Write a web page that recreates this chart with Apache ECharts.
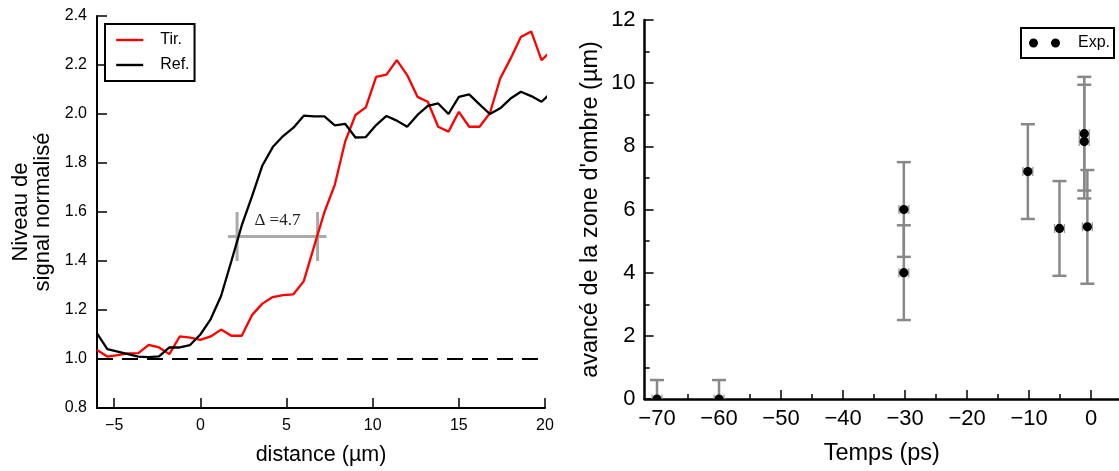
<!DOCTYPE html>
<html><head><meta charset="utf-8">
<script src="https://cdn.jsdelivr.net/npm/echarts@6/dist/echarts.min.js"></script>
<style>html,body{margin:0;padding:0;background:#fff}#c{width:1119px;height:471px}</style>
</head><body><div id="c"></div>
<script>
// ---- Left panel data ----
const distX = [-6.0,-5.4,-4.8,-4.2,-3.6,-3.0,-2.4,-1.8,-1.2,-0.6,0.0,0.6,1.2,1.8,2.4,3.0,3.6,4.2,4.8,5.4,6.0,6.6,7.2,7.8,8.4,9.0,9.6,10.2,10.8,11.4,12.0,12.6,13.2,13.8,14.4,15.0,15.6,16.2,16.8,17.4,18.0,18.6,19.2,19.8,20.4];
const tirY = [1.037,1.010,1.016,1.023,1.024,1.058,1.047,1.020,1.092,1.087,1.078,1.092,1.120,1.095,1.095,1.180,1.226,1.253,1.261,1.264,1.318,1.460,1.600,1.711,1.887,1.996,2.027,2.152,2.161,2.220,2.159,2.070,2.050,1.948,1.928,2.009,1.948,1.948,2.003,2.145,2.226,2.314,2.337,2.220,2.260];
const refY = [1.105,1.040,1.030,1.020,1.010,1.008,1.011,1.047,1.047,1.057,1.100,1.163,1.257,1.400,1.545,1.665,1.790,1.865,1.910,1.944,1.993,1.990,1.990,1.954,1.960,1.904,1.906,1.955,1.992,1.973,1.948,1.996,2.033,2.043,2.000,2.070,2.080,2.039,2.000,2.023,2.063,2.091,2.073,2.050,2.090];
const baseLineX = [-6, 20];
const baseLineY = [1.0, 1.0];
const deltaBarX = [1.6, 7.32];
const deltaBarY = 1.5;
const deltaTickX = [2.13, 6.8];
const deltaTickY = [1.4, 1.6];
const deltaText = 'Δ =4.7';
const deltaTextPos = [4.47, 1.566];
const distTicks = [-5, 0, 5, 10, 15, 20];

// ---- Right panel data ----
const expX = [-70, -60, -30.2, -30.2, -10.2, -5.1, -1.1, -1.1, -0.6];
const expY = [0, 0, 6.0, 4.0, 7.2, 5.4, 8.4, 8.15, 5.45];
const expYErr = [0.6, 0.6, 1.5, 1.5, 1.5, 1.5, 1.8, 1.8, 1.8];
const expXErr = [0.8, 0.8, 0.8, 0.8, 0.8, 0.8, 0.8, 0.8, 0.8];
const timeTicks = [-70, -60, -50, -40, -30, -20, -10, 0];
const timeMinorTicks = [-65, -55, -45, -35, -25, -15, -5];

const FONT = 'Liberation Sans';
const minus = v => String(v).replace('-', '\u2212');

const tirData = distX.map((x, i) => [x, tirY[i]]);
const refData = distX.map((x, i) => [x, refY[i]]);
const baseData = baseLineX.map((x, i) => [x, baseLineY[i]]);
const expData = expX.map((x, i) => [x, expY[i], expYErr[i], expXErr[i]]);

function errRender(params, api) {
  const x = api.value(0), y = api.value(1), ey = api.value(2), ex = api.value(3);
  const t = api.coord([x, y + ey]);
  const b = api.coord([x, y - ey]);
  const l = api.coord([x - ex, y]);
  const r = api.coord([x + ex, y]);
  const st = { stroke: '#888888', lineWidth: 2.5 };
  const st2 = { stroke: '#999999', lineWidth: 1.3 };
  const cw = 7, ch = 4.5;
  return { type: 'group', children: [
    { type: 'line', shape: { x1: t[0], y1: t[1], x2: b[0], y2: b[1] }, style: st },
    { type: 'line', shape: { x1: t[0] - cw, y1: t[1], x2: t[0] + cw, y2: t[1] }, style: st },
    { type: 'line', shape: { x1: b[0] - cw, y1: b[1], x2: b[0] + cw, y2: b[1] }, style: st },
    { type: 'line', shape: { x1: l[0], y1: l[1], x2: r[0], y2: r[1] }, style: st2 },
    { type: 'line', shape: { x1: l[0], y1: l[1] - ch, x2: l[0], y2: l[1] + ch }, style: st2 },
    { type: 'line', shape: { x1: r[0], y1: r[1] - ch, x2: r[0], y2: r[1] + ch }, style: st2 }
  ]};
}
function dotRender(params, api) {
  const c = api.coord([api.value(0), api.value(1)]);
  return { type: 'circle', shape: { cx: c[0], cy: c[1], r: 4.6 }, style: { fill: '#000' } };
}
function textRender(params, api) {
  const c = api.coord([api.value(0), api.value(1)]);
  return { type: 'text', x: c[0], y: c[1], style: { text: deltaText, fill: '#222', font: '17px "Liberation Serif"', align: 'center', verticalAlign: 'middle' } };
}

const chart = echarts.init(document.getElementById('c'), null, { renderer: 'canvas' });
chart.setOption({
  animation: false,
  backgroundColor: '#fff',
  grid: [
    { left: 97, top: 16, width: 448, height: 393.3 },
    { left: 644.6, top: 20, right: 0, height: 380 }
  ],
  xAxis: [
    { type: 'value', gridIndex: 0, min: -6, max: 20,
      axisLine: { onZero: false, lineStyle: { color: '#000', width: 2 } },
      axisTick: { inside: true, length: 10, customValues: distTicks, lineStyle: { color: '#000', width: 1.5 } },
      axisLabel: { customValues: distTicks, formatter: minus, color: '#000', fontFamily: FONT, fontSize: 16, margin: 10 },
      splitLine: { show: false },
      name: 'distance (µm)', nameLocation: 'middle', nameGap: 36,
      nameTextStyle: { color: '#000', fontFamily: FONT, fontSize: 21.5 } },
    { type: 'value', gridIndex: 1, min: -72, max: 4.5,
      axisLine: { onZero: false, lineStyle: { color: '#000', width: 2.5 } },
      axisTick: { inside: true, length: 9, customValues: timeTicks, lineStyle: { color: '#000', width: 1.5 } },
      axisLabel: { customValues: timeTicks, formatter: minus, color: '#000', fontFamily: FONT, fontSize: 22, margin: 9 },
      splitLine: { show: false },
      name: 'Temps (ps)', nameLocation: 'middle', nameGap: 43,
      nameTextStyle: { color: '#000', fontFamily: FONT, fontSize: 23.5 } },
    { type: 'value', gridIndex: 1, min: -72, max: 4.5, position: 'bottom',
      axisLine: { show: false, onZero: false },
      axisTick: { inside: true, length: 5, customValues: timeMinorTicks, lineStyle: { color: '#000', width: 1.5 } },
      axisLabel: { show: false }, splitLine: { show: false } }
  ],
  yAxis: [
    { type: 'value', gridIndex: 0, min: 0.8, max: 2.4, interval: 0.2,
      axisLine: { show: true, onZero: false, lineStyle: { color: '#000', width: 2 } },
      axisTick: { show: true, inside: true, length: 10, lineStyle: { color: '#000', width: 1.5 } },
      axisLabel: { formatter: v => v.toFixed(1), color: '#000', fontFamily: FONT, fontSize: 16, margin: 10 },
      splitLine: { show: false },
      name: 'Niveau de\nsignal normalisé', nameLocation: 'middle', nameGap: 43,
      nameTextStyle: { color: '#000', fontFamily: FONT, fontSize: 22, lineHeight: 22, align: 'center' } },
    { type: 'value', gridIndex: 1, min: 0, max: 12, interval: 2,
      axisLine: { show: true, onZero: false, lineStyle: { color: '#000', width: 2.5 } },
      axisTick: { show: true, inside: true, length: 9, lineStyle: { color: '#000', width: 1.5 } },
      minorTick: { show: true, splitNumber: 2, length: 5, lineStyle: { color: '#000', width: 1.5 } },
      axisLabel: { color: '#000', fontFamily: FONT, fontSize: 22, margin: 9 },
      splitLine: { show: false },
      name: 'avancé de la zone d\'ombre (µm)', nameLocation: 'middle', nameGap: 42,
      nameTextStyle: { color: '#000', fontFamily: FONT, fontSize: 23.5 } }
  ],
  legend: [
    { data: ['Tir.', 'Ref.'], left: 105, top: 24, orient: 'vertical',
      itemWidth: 27, itemHeight: 14, itemGap: 9, padding: [8, 5, 8, 10],
      itemStyle: { opacity: 0, borderWidth: 0 },
      lineStyle: { width: 2.4 },
      borderColor: '#000', borderWidth: 2, borderRadius: 0, backgroundColor: '#fff',
      textStyle: { color: '#000', fontFamily: FONT, fontSize: 16, padding: [0, 0, 0, 12] } },
    { data: [{ name: 'Exp.', icon: 'path://M0,4.5A4.5,4.5,0,1,1,9,4.5A4.5,4.5,0,1,1,0,4.5ZM22,4.5A4.5,4.5,0,1,1,31,4.5A4.5,4.5,0,1,1,22,4.5Z' }],
      left: 1021, top: 28, orient: 'vertical',
      itemWidth: 31, itemHeight: 9, padding: [7, 4, 7, 8],
      borderColor: '#000', borderWidth: 2, borderRadius: 0, backgroundColor: '#fff',
      textStyle: { color: '#000', fontFamily: FONT, fontSize: 16, padding: [0, 0, 0, 13] } }
  ],
  series: [
    { name: 'baseline', type: 'line', xAxisIndex: 0, yAxisIndex: 0, data: baseData, symbol: 'none',
      lineStyle: { color: '#000', width: 2.2, type: [16, 9] }, z: 1 },
    { name: 'Tir.', type: 'line', xAxisIndex: 0, yAxisIndex: 0, data: tirData, symbol: 'none',
      itemStyle: { color: '#ff0000' }, lineStyle: { color: '#ff0000', width: 2.3 }, clip: true, z: 3 },
    { name: 'Ref.', type: 'line', xAxisIndex: 0, yAxisIndex: 0, data: refData, symbol: 'none',
      itemStyle: { color: '#000' }, lineStyle: { color: '#000', width: 2.3 }, clip: true, z: 3 },
    { name: 'deltaBar', type: 'line', xAxisIndex: 0, yAxisIndex: 0,
      data: deltaBarX.map(x => [x, deltaBarY]), symbol: 'none',
      lineStyle: { color: '#aaaaaa', width: 3 }, z: 2 },
    { name: 'deltaTickL', type: 'line', xAxisIndex: 0, yAxisIndex: 0,
      data: deltaTickY.map(y => [deltaTickX[0], y]), symbol: 'none',
      lineStyle: { color: '#aaaaaa', width: 3 }, z: 2 },
    { name: 'deltaTickR', type: 'line', xAxisIndex: 0, yAxisIndex: 0,
      data: deltaTickY.map(y => [deltaTickX[1], y]), symbol: 'none',
      lineStyle: { color: '#aaaaaa', width: 3 }, z: 2 },
    { name: 'deltaText', type: 'custom', xAxisIndex: 0, yAxisIndex: 0,
      data: [deltaTextPos], renderItem: textRender, encode: { x: 0, y: 1 }, z: 4 },
    { name: 'errors', type: 'custom', xAxisIndex: 1, yAxisIndex: 1, data: expData,
      renderItem: errRender, encode: { x: 0, y: 1 }, clip: true, z: 2 },
    { name: 'Exp.', type: 'custom', xAxisIndex: 1, yAxisIndex: 1, data: expData,
      renderItem: dotRender, encode: { x: 0, y: 1 }, clip: true, itemStyle: { color: '#000' }, z: 3 }
  ]
});
</script>
</body></html>
